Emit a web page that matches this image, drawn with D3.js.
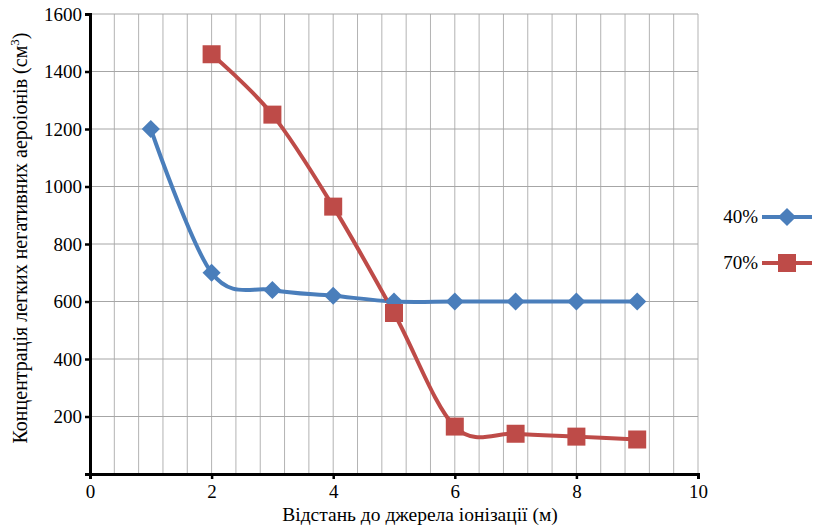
<!DOCTYPE html>
<html>
<head>
<meta charset="utf-8">
<script src="https://cdn.jsdelivr.net/npm/d3@7"></script>
<style>
  body { margin: 0; background: #fff; }
</style>
</head>
<body>
<div id="chart"></div>
<script>
const distance40 = [1, 2, 3, 4, 5, 6, 7, 8, 9];
const values40 = [1200, 700, 640, 620, 600, 600, 600, 600, 600];
const distance70 = [2, 3, 4, 5, 6, 7, 8, 9];
const values70 = [1460, 1250, 930, 560, 165, 140, 130, 120];
const seriesNames = ["40%", "70%"];
const xTicks = [0, 2, 4, 6, 8, 10];
const yTicks = [200, 400, 600, 800, 1000, 1200, 1400, 1600];

const width = 814, height = 530;
const plotLeft = 90, plotRight = 698, plotTop = 14, plotBottom = 474;
const serif = "Liberation Serif, DejaVu Serif, serif";

const svg = d3.select("#chart")
    .append("svg")
    .attr("width", width)
    .attr("height", height)
    .attr("font-family", serif);

const x = d3.scaleLinear().domain([0, 10]).range([plotLeft, plotRight]);
const y = d3.scaleLinear().domain([0, 1600]).range([plotBottom, plotTop]);

// grid
svg.append("g")
    .selectAll("line")
    .data(d3.range(0.4, 10.01, 0.4))
    .enter().append("line")
    .attr("x1", d => x(d)).attr("x2", d => x(d))
    .attr("y1", plotTop).attr("y2", plotBottom)
    .attr("stroke", "#b3b3b3").attr("stroke-width", 1);

svg.append("g")
    .selectAll("line")
    .data(yTicks)
    .enter().append("line")
    .attr("x1", plotLeft).attr("x2", plotRight)
    .attr("y1", d => y(d)).attr("y2", d => y(d))
    .attr("stroke", "#a6a6a6").attr("stroke-width", 1);

// axes
const xAxis = svg.append("g")
    .attr("transform", `translate(0, ${plotBottom})`)
    .call(d3.axisBottom(x).tickValues(xTicks).tickSize(5).tickPadding(6));
const yAxis = svg.append("g")
    .attr("transform", `translate(${plotLeft}, 0)`)
    .call(d3.axisLeft(y).tickValues([0].concat(yTicks)).tickSize(5).tickPadding(3)
        .tickFormat(d => d === 0 ? "" : d));

[xAxis, yAxis].forEach(a => {
    a.attr("font-family", serif).attr("font-size", 19);
    a.select(".domain").attr("stroke", "#000").attr("stroke-width", 3);
    a.selectAll(".tick line").attr("stroke", "#000").attr("stroke-width", 2.5);
    a.selectAll(".tick text").attr("fill", "#000");
});

const colors = ["#4a7ebb", "#be4b48"];
const line = d3.line()
    .x(d => x(d[0])).y(d => y(d[1]))
    .curve(d3.curveCardinal.tension(0));

const data40 = distance40.map((d, i) => [d, values40[i]]);
const data70 = distance70.map((d, i) => [d, values70[i]]);

const diamond = d3.symbol().type(d3.symbolDiamond2).size(210);

svg.append("path").datum(data40)
    .attr("d", line).attr("fill", "none")
    .attr("stroke", colors[0]).attr("stroke-width", 4);
svg.append("path").datum(data70)
    .attr("d", line).attr("fill", "none")
    .attr("stroke", colors[1]).attr("stroke-width", 4);

svg.append("g").selectAll("path")
    .data(data40)
    .enter().append("path")
    .attr("d", diamond)
    .attr("transform", d => `translate(${x(d[0])}, ${y(d[1])})`)
    .attr("fill", colors[0]);

svg.append("g").selectAll("rect")
    .data(data70)
    .enter().append("rect")
    .attr("x", d => x(d[0]) - 9).attr("y", d => y(d[1]) - 9)
    .attr("width", 18).attr("height", 18)
    .attr("fill", colors[1]);

// legend
const legend = svg.append("g");
seriesNames.forEach((name, i) => {
    const ly = 217 + i * 46;
    legend.append("text")
        .attr("x", 758).attr("y", ly + 6)
        .attr("text-anchor", "end")
        .attr("font-size", 19)
        .text(name);
    legend.append("line")
        .attr("x1", 762).attr("x2", 812)
        .attr("y1", ly).attr("y2", ly)
        .attr("stroke", colors[i]).attr("stroke-width", 4);
    if (i === 0) {
        legend.append("path").attr("d", diamond)
            .attr("transform", `translate(787, ${ly})`)
            .attr("fill", colors[i]);
    } else {
        legend.append("rect")
            .attr("x", 778).attr("y", ly - 9)
            .attr("width", 18).attr("height", 18)
            .attr("fill", colors[i]);
    }
});

// axis titles
svg.append("text")
    .attr("x", 420).attr("y", 521)
    .attr("text-anchor", "middle")
    .attr("font-size", 19.5)
    .text("Відстань до джерела іонізації  (м)");

const yTitle = svg.append("text")
    .attr("transform", `translate(27, 238) rotate(-90)`)
    .attr("text-anchor", "middle")
    .attr("font-size", 20);
yTitle.append("tspan").text("Концентрація легких негативних аероіонів  (см");
yTitle.append("tspan").attr("font-size", 13).attr("dy", -8).text("3");
yTitle.append("tspan").attr("dy", 8).text(")");
</script>
</body>
</html>
